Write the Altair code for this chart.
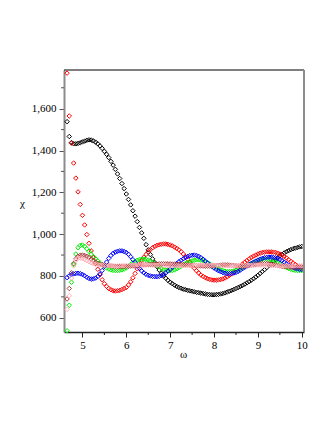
import altair as alt
import pandas as pd

# sampled frequencies (shared by all series)
omega = [4.65, 4.70, 4.75, 4.80, 4.85, 4.90, 4.95, 5.00, 5.05, 5.10,
         5.15, 5.20, 5.25, 5.30, 5.35, 5.40, 5.45, 5.50, 5.55, 5.60,
         5.65, 5.70, 5.75, 5.80, 5.85, 5.90, 5.95, 6.00, 6.05, 6.10,
         6.15, 6.20, 6.25, 6.30, 6.35, 6.40, 6.45, 6.50, 6.55, 6.60,
         6.65, 6.70, 6.75, 6.80, 6.85, 6.90, 6.95, 7.00, 7.05, 7.10,
         7.15, 7.20, 7.25, 7.30, 7.35, 7.40, 7.45, 7.50, 7.55, 7.60,
         7.65, 7.70, 7.75, 7.80, 7.85, 7.90, 7.95, 8.00, 8.05, 8.10,
         8.15, 8.20, 8.25, 8.30, 8.35, 8.40, 8.45, 8.50, 8.55, 8.60,
         8.65, 8.70, 8.75, 8.80, 8.85, 8.90, 8.95, 9.00, 9.05, 9.10,
         9.15, 9.20, 9.25, 9.30, 9.35, 9.40, 9.45, 9.50, 9.55, 9.60,
         9.65, 9.70, 9.75, 9.80, 9.85, 9.90, 9.95, 10.00]

black = [1538, 1467, 1438, 1432, 1432, 1434, 1437, 1441, 1445, 1449,
         1451, 1450, 1446, 1440, 1432, 1422, 1410, 1396, 1382, 1366,
         1348, 1330, 1310, 1288, 1266, 1242, 1218, 1192, 1166, 1140,
         1112, 1086, 1060, 1032, 1006, 980, 950, 925, 902, 882,
         864, 845, 828, 813, 800, 789, 779, 770, 763, 756,
         750, 745, 741, 737, 734, 731, 729, 727, 724, 722,
         720, 718, 716, 714, 712, 711, 710, 710, 711, 712,
         714, 716, 719, 723, 727, 731, 735, 740, 745, 750,
         755, 761, 767, 773, 780, 787, 795, 803, 812, 821,
         830, 840, 850, 860, 870, 879, 888, 896, 903, 910,
         916, 921, 926, 930, 933, 936, 939, 941]

red = [1770, 1565, 1435, 1340, 1268, 1202, 1142, 1090, 1044, 998,
       956, 920, 888, 858, 832, 806, 782, 763, 750, 740,
       734, 730, 728, 729, 731, 735, 740, 745, 757, 772,
       791, 812, 834, 855, 874, 890, 903, 915, 926, 935,
       941, 946, 949, 952, 953, 953, 951, 948, 944, 938,
       932, 925, 916, 905, 893, 880, 865, 850, 837, 825,
       814, 805, 798, 792, 787, 784, 781, 780, 780, 781,
       783, 786, 790, 796, 803, 810, 819, 828, 838, 848,
       857, 866, 874, 882, 889, 895, 900, 905, 909, 912,
       914, 915, 915, 915, 914, 913, 909, 905, 899, 893,
       886, 878, 870, 862, 855, 848, 842, 836]

green = [538, 660, 770, 855, 905, 935, 946, 948, 942, 930,
         918, 904, 892, 882, 872, 862, 852, 845, 838, 833,
         829, 827, 826, 826, 827, 829, 833, 838, 846, 855,
         863, 870, 875, 879, 880, 880, 879, 876, 871, 865,
         858, 851, 844, 837, 831, 828, 826, 825, 826, 829,
         834, 840, 847, 854, 860, 865, 869, 872, 875, 877,
         877, 876, 873, 869, 864, 858, 852, 846, 840, 835,
         830, 826, 823, 821, 821, 822, 824, 827, 831, 836,
         841, 846, 851, 856, 861, 866, 870, 874, 877, 879,
         880, 880, 879, 877, 874, 870, 865, 859, 853, 847,
         841, 836, 832, 829, 827, 826, 826, 826]

blue = [792, 801, 806, 810, 812, 813, 811, 807, 801, 794,
        788, 785, 786, 790, 797, 810, 826, 846, 866, 884,
        898, 908, 914, 918, 920, 920, 917, 912, 904, 892,
        878, 864, 850, 836, 824, 815, 808, 803, 800, 798,
        797, 797, 798, 802, 808, 815, 823, 832, 842, 851,
        860, 868, 875, 882, 888, 893, 897, 899, 900, 898,
        894, 888, 880, 871, 862, 854, 846, 838, 831, 825,
        820, 816, 813, 811, 811, 812, 814, 817, 822, 828,
        835, 842, 848, 854, 860, 866, 871, 876, 880, 884,
        887, 889, 890, 890, 889, 887, 884, 879, 873, 866,
        859, 852, 846, 841, 837, 834, 832, 831]

brown = [690, 740, 815, 860, 882, 894, 899, 900, 898, 894,
         888, 881, 874, 867, 861, 857, 854, 852, 850, 849,
         848, 847, 846, 845, 845, 845, 845, 846, 846, 847,
         848, 849, 850, 851, 852, 853, 854, 855, 855, 856,
         857, 857, 858, 858, 858, 858, 858, 858, 857, 857,
         856, 856, 855, 854, 854, 853, 852, 851, 850, 849,
         848, 848, 847, 847, 847, 847, 848, 849, 850, 851,
         852, 853, 853, 853, 852, 851, 850, 849, 848, 847,
         847, 847, 848, 849, 851, 853, 855, 857, 858, 859,
         859, 859, 858, 856, 854, 852, 850, 848, 846, 845,
         844, 843, 842, 842, 842, 842, 843, 843]

pink = [640, 705, 790, 848, 874, 884, 886, 884, 879, 873,
        868, 863, 859, 856, 854, 852, 851, 850, 849, 849,
        848, 848, 848, 848, 849, 849, 849, 850, 850, 851,
        851, 851, 852, 852, 852, 852, 852, 852, 852, 852,
        851, 851, 851, 850, 850, 850, 849, 849, 849, 849,
        849, 849, 849, 849, 849, 850, 850, 850, 851, 851,
        851, 851, 852, 852, 852, 852, 851, 851, 851, 850,
        850, 850, 849, 849, 849, 849, 849, 849, 849, 850,
        850, 850, 851, 851, 851, 852, 852, 852, 852, 852,
        851, 851, 851, 850, 850, 850, 849, 849, 849, 848,
        848, 848, 848, 848, 849, 849, 849, 849]

names = ["black", "red", "green", "blue", "brown", "pink"]
colors = ["#000000", "#ff0000", "#00ee00", "#0000ff", "#a83c3c", "#ffb0b8"]
series = [black, red, green, blue, brown, pink]

x_major = [5, 6, 7, 8, 9, 10]
x_minor = [5.5, 6.5, 7.5, 8.5, 9.5]
y_major = [600, 800, 1000, 1200, 1400, 1600]
y_minor = [700, 900, 1100, 1300, 1500, 1700]

rows = []
for n, s in zip(names, series):
    assert len(s) == len(omega), (n, len(s))
    for w, c in zip(omega, s):
        rows.append({"ω": w, "χ": c, "series": n})
df = pd.DataFrame(rows)

W, H = 240, 262
FONT = "Liberation Serif"
xs = alt.Scale(domain=[4.58, 10.05], nice=False, zero=False)
ys = alt.Scale(domain=[532, 1785], nice=False, zero=False)

xaxis = alt.Axis(
    values=x_major, format="d", title="ω", grid=False,
    tickSize=5, labelPadding=2, labelFlush=False,
    domainColor="#222222", domainWidth=1.5, tickColor="#222222",
    titleX=119, titleY=25, titleAlign="center", titleBaseline="alphabetic",
    titleFontWeight="normal")
yaxis = alt.Axis(
    values=y_major, format=",d", title="χ", grid=False,
    tickSize=5, labelPadding=3, labelFlush=False,
    domainColor="#8c8c8c", domainWidth=2, tickColor="#555555",
    titleAngle=0, titleX=-42, titleY=136, titleAlign="center",
    titleBaseline="alphabetic", titleFontWeight="normal")

points = alt.Chart(df).mark_point(
    shape="diamond", filled=False, size=20, strokeWidth=1, opacity=1
).encode(
    x=alt.X("ω:Q", scale=xs, axis=xaxis),
    y=alt.Y("χ:Q", scale=ys, axis=yaxis),
    color=alt.Color("series:N", scale=alt.Scale(domain=names, range=colors), legend=None),
)

xminor = alt.Chart(pd.DataFrame({"ω": x_minor})).mark_rule(
    color="#222222", strokeWidth=1
).encode(x=alt.X("ω:Q", scale=xs, axis=xaxis), y=alt.value(H), y2=alt.value(H + 3))

yminor = alt.Chart(pd.DataFrame({"χ": y_minor})).mark_rule(
    color="#555555", strokeWidth=1
).encode(y=alt.Y("χ:Q", scale=ys, axis=yaxis), x=alt.value(-3), x2=alt.value(0))

one = alt.Data(values=[{"k": 0}])
top = alt.Chart(one).mark_rule(color="#000000", strokeWidth=1).encode(
    x=alt.value(0), x2=alt.value(W), y=alt.value(0))
right = alt.Chart(one).mark_rule(color="#8c8c8c", strokeWidth=2).encode(
    x=alt.value(W), y=alt.value(0), y2=alt.value(H))

chart = alt.layer(points, xminor, yminor, top, right).properties(
    width=W, height=H,
    padding={"left": 56, "top": 62, "right": 20, "bottom": 60},
    autosize=alt.AutoSizeParams(type="none"),
).configure_view(strokeWidth=0).configure_axis(
    labelFont=FONT, titleFont=FONT, labelFontSize=11, titleFontSize=11,
    labelColor="#000000", titleColor="#000000"
)

chart.save("out.html", embed_options={"renderer": "svg", "actions": False})
